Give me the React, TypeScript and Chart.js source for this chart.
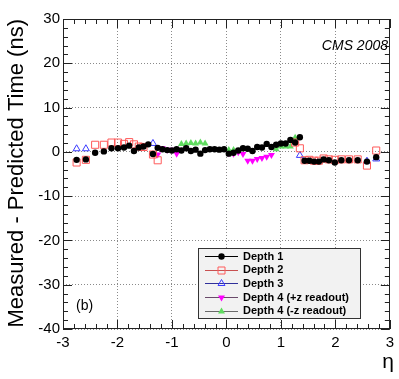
import React, { useEffect, useRef } from "react";
import { Chart, registerables } from "chart.js";

Chart.register(...registerables);

// ---------- data ----------
const etaDepth1 = [
  -2.75, -2.58, -2.41, -2.25, -2.11, -1.99, -1.88, -1.785, -1.697, -1.609, -1.522, -1.435,
  -1.3485, -1.2615, -1.1745, -1.0875, -1.0005, -0.9135, -0.8265, -0.7395, -0.6525, -0.5655,
  -0.4785, -0.3915, -0.3045, -0.2175, -0.1305, -0.0435, 0.0435, 0.1305, 0.2175, 0.3045,
  0.3915, 0.4785, 0.5655, 0.6525, 0.7395, 0.8265, 0.9135, 1.0005, 1.0875, 1.1745, 1.2615,
  1.3485, 1.435, 1.522, 1.609, 1.697, 1.785, 1.88, 1.99, 2.11, 2.25, 2.41, 2.58, 2.75,
];
const timeDepth1 = [
  -1.8, -1.7, -0.2, 0.1, 0.8, 0.8, 1.0, 1.4, 0.2, 1.0, 1.2, 1.7,
  -0.5, 0.9, 0.6, 0.4, 0.3, 0.6, 0.3, 0.8, 0.2, 0.5,
  -0.4, 0.4, 0.6, 0.6, 0.5, 0.6, -0.4, -0.2, 0.3, 0.8,
  0.7, 0.2, 1.1, 1.0, 1.8, 1.1, 1.6, 1.9, 1.9, 2.7, 2.1,
  3.3, -2.0, -2.0, -2.2, -2.2, -1.7, -1.9, -2.4, -1.9, -1.9, -1.9, -2.2, -1.2,
];

const etaDepth2 = [
  -2.75, -2.58, -2.41, -2.25, -2.11, -1.99, -1.88, -1.785, -1.697, -1.609, -1.522, -1.3485, -1.2615,
  1.2615, 1.3485, 1.435, 1.522, 1.609, 1.697, 1.785, 1.88, 1.99, 2.11, 2.25, 2.41, 2.58, 2.75,
];
const timeDepth2 = [
  -2.4, -1.8, 1.6, 1.6, 2.1, 2.1, 1.8, 2.2, 1.7, 1.2, 1.1, -0.6, -1.9,
  2.1, 0.8, -1.9, -1.8, -2.0, -2.0, -1.5, -1.7, -1.8, -1.7, -1.7, -1.7, -3.1, 0.3,
];

const etaDepth3 = [-2.75, -2.58, -1.3485, 1.3485, 2.58, 2.75];
const timeDepth3 = [0.7, 0.7, 1.9, -0.8, -2.1, -1.6];

const etaDepth4Plus = [
  -1.2615, -1.1745, -1.0875, -1.0005, -0.9135,
  0.0435, 0.1305, 0.2175, 0.3045, 0.3915, 0.4785, 0.5655, 0.6525, 0.7395, 0.8265,
];
const timeDepth4Plus = [
  -0.6, 0.8, 0.5, 0.5, -0.4,
  -0.3, -0.4, -0.1, -0.5, -2.0, -2.0, -1.6, -1.4, -1.1, -0.7,
];

const etaDepth4Minus = [
  -0.8265, -0.7395, -0.6525, -0.5655, -0.4785, -0.3915,
  0.0435, 0.1305, 0.9135, 1.0005, 1.0875, 1.1745, 1.2615,
];
const timeDepth4Minus = [
  1.8, 1.9, 2.0, 1.9, 2.1, 1.9,
  0.4, 0.4, 0.6, 1.2, 1.2, 1.2, 3.2,
];

const seriesLabels = [
  "Depth 1",
  "Depth 2",
  "Depth 3",
  "Depth 4 (+z readout)",
  "Depth 4 (-z readout)",
];

const xMin = -3;
const xMax = 3;
const yMin = -40;
const yMax = 30;

// ---------- styles ----------
const FONT = "'Liberation Sans', Arial, Helvetica, sans-serif";
const C_BLACK = "#000000";
const C_RED = "#ff5a5a";
const C_BLUE = "#3a3aff";
const C_MAGENTA = "#ff00ff";
const C_GREEN = "#5fdc5f";

const toPts = (xs: number[], ys: number[]) => xs.map((x, i) => ({ x, y: ys[i] }));

type MarkerKind = "dot" | "square" | "triUp" | "triDown" | "triUpFill";

function drawMarker(ctx: CanvasRenderingContext2D, kind: MarkerKind, color: string, x: number, y: number) {
  ctx.save();
  ctx.lineWidth = 1;
  ctx.strokeStyle = color;
  ctx.fillStyle = color;
  ctx.beginPath();
  if (kind === "dot") {
    ctx.arc(x, y, 3.2, 0, Math.PI * 2);
    ctx.fill();
  } else if (kind === "square") {
    ctx.rect(x - 3.5, y - 3.5, 7, 7);
    ctx.stroke();
  } else if (kind === "triUp" || kind === "triUpFill") {
    const r = 4;
    ctx.moveTo(x, y - r);
    ctx.lineTo(x + r * 0.866, y + r / 2);
    ctx.lineTo(x - r * 0.866, y + r / 2);
    ctx.closePath();
    if (kind === "triUp") ctx.stroke();
    else ctx.fill();
  } else if (kind === "triDown") {
    const r = 4;
    ctx.moveTo(x, y + r);
    ctx.lineTo(x + r * 0.866, y - r / 2);
    ctx.lineTo(x - r * 0.866, y - r / 2);
    ctx.closePath();
    ctx.fill();
  }
  ctx.restore();
}

const legendEntries: { kind: MarkerKind; color: string; line: string }[] = [
  { kind: "dot", color: C_BLACK, line: "#000000" },
  { kind: "square", color: C_RED, line: "#c85050" },
  { kind: "triUp", color: C_BLUE, line: "#30309a" },
  { kind: "triDown", color: C_MAGENTA, line: "#6a4a6a" },
  { kind: "triUpFill", color: C_GREEN, line: "#6a6a6a" },
];

const framePlugin = {
  id: "rootFrame",
  afterDraw(chart: any) {
    const ctx: CanvasRenderingContext2D = chart.ctx;
    const { left, right, top, bottom } = chart.chartArea;
    const xs = chart.scales.x;
    const ys = chart.scales.y;
    ctx.save();
    // frame
    ctx.strokeStyle = "#222";
    ctx.lineWidth = 1;
    ctx.strokeRect(Math.round(left) + 0.5, Math.round(top) + 0.5, Math.round(right - left) - 1, Math.round(bottom - top) - 1);

    // ticks (inward, all four sides)
    ctx.beginPath();
    for (let i = 0; i <= 30; i++) {
      const v = xMin + i * 0.2;
      const px = Math.round(xs.getPixelForValue(v)) + 0.5;
      const major = i % 5 === 0;
      const len = major ? 9 : 5;
      ctx.moveTo(px, bottom);
      ctx.lineTo(px, bottom - len);
      ctx.moveTo(px, top);
      ctx.lineTo(px, top + len);
    }
    for (let i = 0; i <= 35; i++) {
      const v = yMin + i * 2;
      const py = Math.round(ys.getPixelForValue(v)) + 0.5;
      const major = i % 5 === 0;
      const len = major ? 9 : 5;
      ctx.moveTo(left, py);
      ctx.lineTo(left + len, py);
      ctx.moveTo(right, py);
      ctx.lineTo(right - len, py);
    }
    ctx.stroke();

    // axis titles
    ctx.fillStyle = "#000";
    ctx.font = `22px ${FONT}`;
    ctx.save();
    ctx.translate(23, top);
    ctx.rotate(-Math.PI / 2);
    ctx.textAlign = "right";
    ctx.textBaseline = "alphabetic";
    ctx.fillText("Measured - Predicted Time (ns)", 0, 0);
    ctx.restore();

    ctx.font = `21px ${FONT}`;
    ctx.textAlign = "right";
    ctx.textBaseline = "alphabetic";
    ctx.fillText("η", 394, 368);

    // CMS 2008
    ctx.font = `italic 14px ${FONT}`;
    ctx.textAlign = "right";
    ctx.fillText("CMS 2008", 388, 50);

    // (b)
    ctx.font = `14px ${FONT}`;
    ctx.textAlign = "left";
    ctx.fillText("(b)", 76, 310);

    // legend
    const lx = 198, ly = 248, lw = 163, lh = 71;
    ctx.fillStyle = "#f2f2f2";
    ctx.fillRect(lx, ly, lw, lh);
    ctx.strokeStyle = "#333";
    ctx.lineWidth = 1;
    ctx.strokeRect(lx + 0.5, ly + 0.5, lw - 1, lh - 1);
    ctx.font = `bold 11px ${FONT}`;
    ctx.textAlign = "left";
    ctx.textBaseline = "middle";
    legendEntries.forEach((e, i) => {
      const cy = 256 + i * 13.7;
      ctx.strokeStyle = e.line;
      ctx.lineWidth = 1;
      ctx.beginPath();
      ctx.moveTo(205, Math.round(cy) + 0.5);
      ctx.lineTo(238, Math.round(cy) + 0.5);
      ctx.stroke();
      drawMarker(ctx, e.kind, e.color, 221.5, Math.round(cy) + 0.5);
      ctx.fillStyle = "#000";
      ctx.fillText(seriesLabels[i], 243, cy + 0.5);
    });
    ctx.restore();
  },
};

export default function App() {
  const canvasRef = useRef<HTMLCanvasElement | null>(null);

  useEffect(() => {
    document.body.style.margin = "0";
    const canvas = canvasRef.current;
    if (!canvas) return;
    const chart = new Chart(canvas, {
      type: "scatter",
      data: {
        datasets: [
          {
            label: seriesLabels[0],
            data: toPts(etaDepth1, timeDepth1),
            pointStyle: "circle",
            pointRadius: 3.2,
            pointBackgroundColor: C_BLACK,
            pointBorderColor: C_BLACK,
            pointBorderWidth: 0,
          },
          {
            label: seriesLabels[1],
            data: toPts(etaDepth2, timeDepth2),
            pointStyle: "rect",
            pointRadius: 5,
            pointBackgroundColor: "rgba(0,0,0,0)",
            pointBorderColor: C_RED,
            pointBorderWidth: 1,
          },
          {
            label: seriesLabels[2],
            data: toPts(etaDepth3, timeDepth3),
            pointStyle: "triangle",
            pointRadius: 4,
            pointBackgroundColor: "rgba(0,0,0,0)",
            pointBorderColor: C_BLUE,
            pointBorderWidth: 1,
          },
          {
            label: seriesLabels[3],
            data: toPts(etaDepth4Plus, timeDepth4Plus),
            pointStyle: "triangle",
            pointRotation: 180,
            pointRadius: 4,
            pointBackgroundColor: C_MAGENTA,
            pointBorderColor: C_MAGENTA,
            pointBorderWidth: 0,
          },
          {
            label: seriesLabels[4],
            data: toPts(etaDepth4Minus, timeDepth4Minus),
            pointStyle: "triangle",
            pointRadius: 4,
            pointBackgroundColor: C_GREEN,
            pointBorderColor: C_GREEN,
            pointBorderWidth: 0,
          },
        ],
      },
      options: {
        responsive: false,
        animation: false,
        devicePixelRatio: 1,
        layout: { padding: { left: 0, right: 8, top: 19, bottom: 0 } },
        plugins: {
          legend: { display: false },
          tooltip: { enabled: false },
          title: { display: false },
        },
        scales: {
          x: {
            type: "linear",
            min: xMin,
            max: xMax,
            afterFit: (s: any) => {
              s.height = 50;
            },
            ticks: {
              stepSize: 1,
              autoSkip: false,
              maxRotation: 0,
              padding: 5,
              color: "#000",
              font: { family: FONT, size: 15 },
            },
            grid: {
              color: "#8a8a8a",
              lineWidth: 1,
              drawTicks: false,
            },
            border: { display: false, dash: [1, 2] },
          },
          y: {
            type: "linear",
            min: yMin,
            max: yMax,
            afterFit: (s: any) => {
              s.width = 63;
            },
            ticks: {
              stepSize: 10,
              autoSkip: false,
              padding: 3,
              color: "#000",
              font: { family: FONT, size: 15 },
            },
            grid: {
              color: "#8a8a8a",
              lineWidth: 1,
              drawTicks: false,
            },
            border: { display: false, dash: [1, 2] },
          },
        },
      },
      plugins: [framePlugin],
    } as any);
    return () => chart.destroy();
  }, []);

  return (
    <div style={{ width: 399, height: 379, background: "#fff" }}>
      <canvas ref={canvasRef} width={399} height={379} style={{ display: "block", width: 399, height: 379 }} />
    </div>
  );
}
